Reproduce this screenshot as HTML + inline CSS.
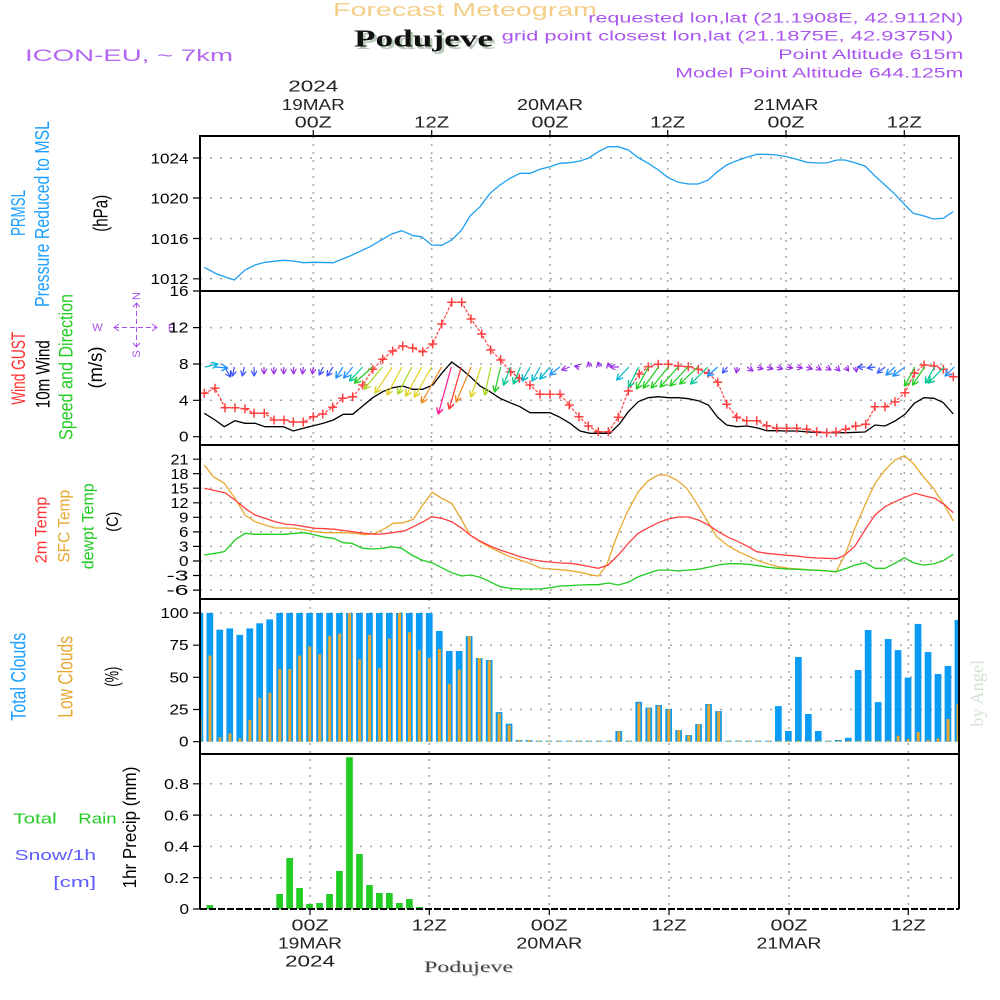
<!DOCTYPE html>
<html>
<head>
<meta charset="utf-8">
<style>
html,body{margin:0;padding:0;background:#fff;}
svg{display:block;}
text{font-family:"Liberation Sans",sans-serif;}
.tk{font-size:15px;fill:#000;text-anchor:end;}
.ax{font-size:16px;fill:#222;text-anchor:middle;}
.grid{fill:none;stroke:#a6a6a6;stroke-width:1.5;stroke-dasharray:2 8;}
</style>
</head>
<body>
<svg width="1000" height="1000" viewBox="0 0 1000 1000" xmlns="http://www.w3.org/2000/svg">
<defs>
<clipPath id="plot"><rect x="200" y="136" width="759" height="773"/></clipPath>
<marker id="m1" viewBox="0 0 10 10" refX="9" refY="5" markerWidth="6" markerHeight="6" markerUnits="userSpaceOnUse" orient="auto"><path d="M0,0 L9,5 L0,10" fill="none" stroke="#9a30e8" stroke-width="2"/></marker>
<marker id="m2" viewBox="0 0 10 10" refX="9" refY="5" markerWidth="6" markerHeight="6" markerUnits="userSpaceOnUse" orient="auto"><path d="M0,0 L9,5 L0,10" fill="none" stroke="#3a50ff" stroke-width="2"/></marker>
<marker id="m3" viewBox="0 0 10 10" refX="9" refY="5" markerWidth="7" markerHeight="7" markerUnits="userSpaceOnUse" orient="auto"><path d="M0,0 L9,5 L0,10" fill="none" stroke="#1e90ff" stroke-width="2"/></marker>
<marker id="m4" viewBox="0 0 10 10" refX="9" refY="5" markerWidth="7" markerHeight="7" markerUnits="userSpaceOnUse" orient="auto"><path d="M0,0 L9,5 L0,10" fill="none" stroke="#00b8d0" stroke-width="2"/></marker>
<marker id="m5" viewBox="0 0 10 10" refX="9" refY="5" markerWidth="7" markerHeight="7" markerUnits="userSpaceOnUse" orient="auto"><path d="M0,0 L9,5 L0,10" fill="none" stroke="#00c890" stroke-width="2"/></marker>
<marker id="m6" viewBox="0 0 10 10" refX="9" refY="5" markerWidth="7" markerHeight="7" markerUnits="userSpaceOnUse" orient="auto"><path d="M0,0 L9,5 L0,10" fill="none" stroke="#20cc20" stroke-width="2"/></marker>
<marker id="m7" viewBox="0 0 10 10" refX="9" refY="5" markerWidth="7" markerHeight="7" markerUnits="userSpaceOnUse" orient="auto"><path d="M0,0 L9,5 L0,10" fill="none" stroke="#a8d820" stroke-width="2"/></marker>
<marker id="m8" viewBox="0 0 10 10" refX="9" refY="5" markerWidth="7" markerHeight="7" markerUnits="userSpaceOnUse" orient="auto"><path d="M0,0 L9,5 L0,10" fill="none" stroke="#e0d020" stroke-width="2"/></marker>
<marker id="m9" viewBox="0 0 10 10" refX="9" refY="5" markerWidth="7" markerHeight="7" markerUnits="userSpaceOnUse" orient="auto"><path d="M0,0 L9,5 L0,10" fill="none" stroke="#f08a20" stroke-width="2"/></marker>
<marker id="m10" viewBox="0 0 10 10" refX="9" refY="5" markerWidth="7" markerHeight="7" markerUnits="userSpaceOnUse" orient="auto"><path d="M0,0 L9,5 L0,10" fill="none" stroke="#ff3030" stroke-width="2"/></marker>
<marker id="m11" viewBox="0 0 10 10" refX="9" refY="5" markerWidth="7" markerHeight="7" markerUnits="userSpaceOnUse" orient="auto"><path d="M0,0 L9,5 L0,10" fill="none" stroke="#ff1493" stroke-width="2"/></marker>
</defs>

<!-- ===== Header ===== -->
<text x="333" y="16" font-size="18" fill="#f3cf88" textLength="264" lengthAdjust="spacingAndGlyphs">Forecast Meteogram</text>
<text x="356.5" y="49" font-size="24" font-weight="bold" fill="#b8c8b8" style="font-family:'Liberation Serif',serif" textLength="139" lengthAdjust="spacingAndGlyphs">Podujeve</text>
<text x="354" y="46.7" font-size="24" font-weight="bold" fill="#111" style="font-family:'Liberation Serif',serif" textLength="139" lengthAdjust="spacingAndGlyphs">Podujeve</text>
<text x="25" y="61" font-size="17" fill="#b366f0" textLength="208" lengthAdjust="spacingAndGlyphs">ICON-EU, ~ 7km</text>
<text x="963.3" y="22.7" font-size="13.5" fill="#aa55ee" text-anchor="end" textLength="375" lengthAdjust="spacingAndGlyphs">requested lon,lat (21.1908E, 42.9112N)</text>
<text x="953.3" y="40.5" font-size="13.5" fill="#aa55ee" text-anchor="end" textLength="451.6" lengthAdjust="spacingAndGlyphs">grid point closest lon,lat (21.1875E, 42.9375N)</text>
<text x="963.3" y="59" font-size="13.5" fill="#aa55ee" text-anchor="end" textLength="185" lengthAdjust="spacingAndGlyphs">Point Altitude 615m</text>
<text x="963.3" y="77.3" font-size="13.5" fill="#aa55ee" text-anchor="end" textLength="288" lengthAdjust="spacingAndGlyphs">Model Point Altitude 644.125m</text>

<!-- top axis labels -->
<text class="ax" x="313.3" y="91.7" textLength="50" lengthAdjust="spacingAndGlyphs">2024</text>
<text class="ax" x="313.3" y="110" textLength="63" lengthAdjust="spacingAndGlyphs">19MAR</text>
<text class="ax" x="313.3" y="127.7" textLength="37" lengthAdjust="spacingAndGlyphs">00Z</text>
<text class="ax" x="431.7" y="127.7" textLength="35" lengthAdjust="spacingAndGlyphs">12Z</text>
<text class="ax" x="550" y="110" textLength="66" lengthAdjust="spacingAndGlyphs">20MAR</text>
<text class="ax" x="550" y="127.7" textLength="37" lengthAdjust="spacingAndGlyphs">00Z</text>
<text class="ax" x="667.7" y="127.7" textLength="35" lengthAdjust="spacingAndGlyphs">12Z</text>
<text class="ax" x="786" y="110" textLength="65" lengthAdjust="spacingAndGlyphs">21MAR</text>
<text class="ax" x="786" y="127.7" textLength="37" lengthAdjust="spacingAndGlyphs">00Z</text>
<text class="ax" x="904.3" y="127.7" textLength="35" lengthAdjust="spacingAndGlyphs">12Z</text>

<!-- bottom axis labels -->
<text class="ax" x="310" y="930.7" textLength="37" lengthAdjust="spacingAndGlyphs">00Z</text>
<text class="ax" x="310" y="948.3" textLength="64" lengthAdjust="spacingAndGlyphs">19MAR</text>
<text class="ax" x="310" y="966.7" textLength="50" lengthAdjust="spacingAndGlyphs">2024</text>
<text class="ax" x="429.3" y="930.7" textLength="35" lengthAdjust="spacingAndGlyphs">12Z</text>
<text class="ax" x="549.3" y="930.7" textLength="37" lengthAdjust="spacingAndGlyphs">00Z</text>
<text class="ax" x="549.3" y="948.3" textLength="66" lengthAdjust="spacingAndGlyphs">20MAR</text>
<text class="ax" x="669" y="930.7" textLength="35" lengthAdjust="spacingAndGlyphs">12Z</text>
<text class="ax" x="789" y="930.7" textLength="37" lengthAdjust="spacingAndGlyphs">00Z</text>
<text class="ax" x="789" y="948.3" textLength="65" lengthAdjust="spacingAndGlyphs">21MAR</text>
<text class="ax" x="908.3" y="930.7" textLength="35" lengthAdjust="spacingAndGlyphs">12Z</text>
<text x="425" y="973" font-size="16" fill="#d4d4d4" style="font-family:'Liberation Serif',serif" textLength="89" lengthAdjust="spacingAndGlyphs">Podujeve</text>
<text x="424" y="972" font-size="16" fill="#444" style="font-family:'Liberation Serif',serif" textLength="89" lengthAdjust="spacingAndGlyphs">Podujeve</text>

<!-- by Angel -->
<text transform="translate(983,693.3) rotate(-90)" text-anchor="middle" font-size="18" fill="#d5e3d5" style="font-family:'Liberation Serif',serif" textLength="67" lengthAdjust="spacingAndGlyphs">by Angel</text>

<!-- ===== Left labels ===== -->
<text transform="translate(25,213) rotate(-90)" text-anchor="middle" font-size="20" fill="#1e9fff" textLength="46" lengthAdjust="spacingAndGlyphs">PRMSL</text>
<text transform="translate(49,214) rotate(-90)" text-anchor="middle" font-size="20" fill="#1e9fff" textLength="186" lengthAdjust="spacingAndGlyphs">Pressure Reduced to MSL</text>
<text transform="translate(107.5,213.3) rotate(-90)" text-anchor="middle" font-size="20" fill="#000" textLength="37" lengthAdjust="spacingAndGlyphs">(hPa)</text>

<text transform="translate(25,368.3) rotate(-90)" text-anchor="middle" font-size="19" fill="#ff3030" textLength="73" lengthAdjust="spacingAndGlyphs">Wind GUST</text>
<text transform="translate(49.3,374.2) rotate(-90)" text-anchor="middle" font-size="19" fill="#000" textLength="68" lengthAdjust="spacingAndGlyphs">10m Wind</text>
<text transform="translate(72.7,367) rotate(-90)" text-anchor="middle" font-size="19" fill="#22cc22" textLength="146" lengthAdjust="spacingAndGlyphs">Speed and Direction</text>
<text transform="translate(102,367.5) rotate(-90)" text-anchor="middle" font-size="19" fill="#000" textLength="42" lengthAdjust="spacingAndGlyphs">(m/s)</text>

<!-- compass -->
<g fill="#a850e8" font-size="11">
<text x="97.5" y="331" text-anchor="middle">W</text>
<text x="171.5" y="331.5" text-anchor="middle">E</text>
<text transform="translate(140,296) rotate(-90)" text-anchor="middle">N</text>
<text transform="translate(140,354) rotate(-90)" text-anchor="middle">S</text>
</g>
<g stroke="#a850e8" stroke-width="1" fill="none">
<path d="M114,327.5 H157" stroke-dasharray="5 3"/>
<path d="M119,324 L114,327.5 L119,331 M152,324 L157,327.5 L152,331"/>
<path d="M136.5,303 V347" stroke-dasharray="5 3"/>
<path d="M133,307 L136.5,303 L140,307 M133,343 L136.5,347 L140,343"/>
</g>

<text transform="translate(46.5,530) rotate(-90)" text-anchor="middle" font-size="16.5" fill="#ff3333" textLength="66.6" lengthAdjust="spacingAndGlyphs">2m Temp</text>
<text transform="translate(69.5,526.3) rotate(-90)" text-anchor="middle" font-size="16.5" fill="#e8a830" textLength="72.7" lengthAdjust="spacingAndGlyphs">SFC Temp</text>
<text transform="translate(93.5,526.3) rotate(-90)" text-anchor="middle" font-size="16.5" fill="#22cc22" textLength="86" lengthAdjust="spacingAndGlyphs">dewpt Temp</text>
<text transform="translate(118,521.7) rotate(-90)" text-anchor="middle" font-size="17" fill="#000" textLength="20" lengthAdjust="spacingAndGlyphs">(C)</text>

<text transform="translate(25.5,676.8) rotate(-90)" text-anchor="middle" font-size="21" fill="#1ea0ff" textLength="88" lengthAdjust="spacingAndGlyphs">Total Clouds</text>
<text transform="translate(72.5,676.8) rotate(-90)" text-anchor="middle" font-size="21" fill="#e8a830" textLength="81.7" lengthAdjust="spacingAndGlyphs">Low Clouds</text>
<text transform="translate(118.5,676.7) rotate(-90)" text-anchor="middle" font-size="19" fill="#000" textLength="20" lengthAdjust="spacingAndGlyphs">(%)</text>

<text x="13.3" y="823.3" font-size="15" fill="#22cc22" textLength="43.4" lengthAdjust="spacingAndGlyphs">Total</text>
<text x="78.3" y="823.3" font-size="15" fill="#22cc22" textLength="38.4" lengthAdjust="spacingAndGlyphs">Rain</text>
<text x="14.7" y="860" font-size="15" fill="#5a5aff" textLength="81.3" lengthAdjust="spacingAndGlyphs">Snow/1h</text>
<text x="53.3" y="887" font-size="15" fill="#5a5aff" textLength="42.7" lengthAdjust="spacingAndGlyphs">[cm]</text>
<text transform="translate(136,827.5) rotate(-90)" text-anchor="middle" font-size="18" fill="#000" textLength="121.7" lengthAdjust="spacingAndGlyphs">1hr Precip (mm)</text>

<!-- ===== Tick labels ===== -->
<text class="tk" x="188.5" y="163.3" textLength="38" lengthAdjust="spacingAndGlyphs">1024</text>
<text class="tk" x="188.5" y="203.3" textLength="38" lengthAdjust="spacingAndGlyphs">1020</text>
<text class="tk" x="188.5" y="243.8" textLength="38" lengthAdjust="spacingAndGlyphs">1016</text>
<text class="tk" x="188.5" y="284" textLength="38" lengthAdjust="spacingAndGlyphs">1012</text>

<text class="tk" x="188.5" y="296" textLength="19" lengthAdjust="spacingAndGlyphs">16</text>
<text class="tk" x="188.5" y="332.5" textLength="20" lengthAdjust="spacingAndGlyphs">12</text>
<text class="tk" x="188.5" y="369" textLength="9.5" lengthAdjust="spacingAndGlyphs">8</text>
<text class="tk" x="188.5" y="405.3" textLength="9.5" lengthAdjust="spacingAndGlyphs">4</text>
<text class="tk" x="188.5" y="441.7" textLength="9.5" lengthAdjust="spacingAndGlyphs">0</text>

<text class="tk" x="188.5" y="464.5" textLength="18" lengthAdjust="spacingAndGlyphs">21</text>
<text class="tk" x="188.5" y="479" textLength="18" lengthAdjust="spacingAndGlyphs">18</text>
<text class="tk" x="188.5" y="493.5" textLength="18" lengthAdjust="spacingAndGlyphs">15</text>
<text class="tk" x="188.5" y="508" textLength="18" lengthAdjust="spacingAndGlyphs">12</text>
<text class="tk" x="188.5" y="522.5" textLength="9.5" lengthAdjust="spacingAndGlyphs">9</text>
<text class="tk" x="188.5" y="537" textLength="9.5" lengthAdjust="spacingAndGlyphs">6</text>
<text class="tk" x="188.5" y="551.5" textLength="9.5" lengthAdjust="spacingAndGlyphs">3</text>
<text class="tk" x="188.5" y="566" textLength="9.5" lengthAdjust="spacingAndGlyphs">0</text>
<text class="tk" x="188.5" y="580.5" textLength="22" lengthAdjust="spacingAndGlyphs">-3</text>
<text class="tk" x="188.5" y="595" textLength="22" lengthAdjust="spacingAndGlyphs">-6</text>

<text class="tk" x="188.5" y="618" textLength="28" lengthAdjust="spacingAndGlyphs">100</text>
<text class="tk" x="188.5" y="650.2" textLength="19" lengthAdjust="spacingAndGlyphs">75</text>
<text class="tk" x="188.5" y="682.3" textLength="19" lengthAdjust="spacingAndGlyphs">50</text>
<text class="tk" x="188.5" y="714.5" textLength="19" lengthAdjust="spacingAndGlyphs">25</text>
<text class="tk" x="188.5" y="746.7" textLength="9.5" lengthAdjust="spacingAndGlyphs">0</text>

<text class="tk" x="189" y="789" textLength="25" lengthAdjust="spacingAndGlyphs">0.8</text>
<text class="tk" x="189" y="820.3" textLength="25" lengthAdjust="spacingAndGlyphs">0.6</text>
<text class="tk" x="189" y="851.6" textLength="25" lengthAdjust="spacingAndGlyphs">0.4</text>
<text class="tk" x="189" y="882.9" textLength="25" lengthAdjust="spacingAndGlyphs">0.2</text>
<text class="tk" x="189" y="914" textLength="9.5" lengthAdjust="spacingAndGlyphs">0</text>

<!-- ===== Grid ===== -->
<path class="grid" d="M200,158H959 M200,198H959 M200,238.5H959 M200,278.8H959
M200,327.6H959 M200,364H959 M200,400.3H959 M200,436.7H959
M200,459.2H959 M200,473.7H959 M200,488.2H959 M200,502.8H959 M200,517.3H959 M200,531.9H959 M200,546.4H959 M200,561H959 M200,575.5H959 M200,590.1H959
M200,613H959 M200,645.2H959 M200,677.3H959 M200,709.5H959
M200,783.8H959 M200,815.1H959 M200,846.4H959 M200,877.7H959"/>
<path class="grid" style="stroke-dasharray:2 6" d="M313.3,136V599 M431.7,136V599 M550,136V599 M667.7,136V599 M786,136V599 M904.3,136V599
M310,599V909 M429.3,599V909 M549.3,599V909 M669,599V909 M789,599V909 M908.3,599V909"/>

<g clip-path="url(#plot)">
<!-- ===== Pressure ===== -->
<polyline fill="none" stroke="#1e9ff0" stroke-width="1.3" points="204.3,267.3 216.7,274 234.3,280 245,270 255,265 265,262.3 283.3,260.3 293.3,261 303.3,262.7 313.3,262.3 333.3,262.7 350,256 370,246.7 391.7,234 401.7,230.7 413.3,235.7 421.7,236.7 431.7,245 441.7,245.3 451.7,240 461.7,230 470,216 480,206.7 490,193.3 500,185 510,178.3 520,173.3 530,173.3 540,169.3 550,166.7 560,163.3 570,162.7 580,161 588.3,158.3 598.3,151.7 608.3,146.7 618.3,146.7 628.3,150 638.3,157.7 648.3,163.3 658.3,170 668.3,177.7 678.3,182.3 688.3,184 698.3,184 708.3,180 716.7,172.3 726.7,165 736.7,160.7 746.7,157.3 756.7,154.3 766.7,154.3 776.7,155 786.7,156.7 796.7,159.3 806.7,162.3 816.7,163 826.7,163 836.7,160 845,160 855,162.7 865,166 875,176 885,185 895,194.3 905,205 913.3,213.3 923.3,215.7 933.3,219 943.3,218.3 953.3,211.7"/>

<!-- ===== Wind ===== -->
<polyline fill="none" stroke="#000" stroke-width="1.3" points="204.3,413.3 215,420 224.3,426.7 235,420.7 245,423.3 255,423.3 265,426.7 283.3,426.7 293.3,431 303.3,428.3 313.3,425.7 323.3,423.3 333.3,420 343.3,414.3 352.7,414.3 362.7,406 372.7,397.7 382.7,391.7 392.7,387.7 402.7,386 412.7,389.3 422.7,389.3 432.7,385 441.7,373.3 451.7,362 461.7,369.3 471,377.3 480,386 490,391.7 500,398.3 510,402.7 520,406.7 530,412.7 540,412.7 550,412.7 560,417.3 570,423.3 580,431 590,433.3 600,433.3 610,433.3 620,423.3 628.3,411.7 638.3,401.7 648.3,397.7 658.3,396.7 668.3,397.7 678.3,397.7 688.3,398.7 698.3,400.7 708.3,405 717.7,417.3 726.7,425 736.7,426.7 746.7,426 756.7,427.7 766.7,430.7 776.7,430.7 786.7,431 796.7,431 813,432.3 833.3,432.7 846.7,432.7 865,432 875,425 885,426 895,421 905,414.3 914.3,403.3 924,397.7 934,398.3 943.3,402.7 953.3,414"/>

<polyline fill="none" stroke="#ff4040" stroke-width="1.2" stroke-dasharray="3 1.5" points="204.3,393.3 215,388.3 225,407.7 235,407.7 245,408.7 254,413.3 264.3,413.3 274,420 284,420 293.3,422 303.3,422 313.3,416.7 322.7,414 332.7,407.3 342.7,398.3 352.7,396.7 362.7,385 372.7,369.3 382.7,359.3 392.7,351 402.7,346 412.7,348 422.7,351.7 432.7,344 441.7,324 451.7,302.3 461.7,302.3 471,319 481.7,334 490.7,350 500.7,360 510.7,371.7 519.3,378.3 530,385 540,394.3 550,394.3 560,394.3 569.3,405 579,416.7 588.3,426 598.3,431.7 608.3,431.7 618.3,417.3 628.3,391 639.3,374 648.3,366.7 658.3,364.3 668.3,364.3 678.3,366 688.3,366.7 698.3,369.3 708.3,373.3 717.7,382.3 726.7,404.3 736.7,417.3 746.7,420.7 756.7,420.7 766.7,425.7 776.7,428.3 786.7,428.3 796.7,428.3 806.7,429.3 816.7,431.7 826.7,432.7 836,432 845.7,429.3 855.7,426 865.7,424.3 875,406.7 885,406.7 895,401.7 905,392.7 914.3,373.3 924,365 934,366 943.3,369.3 953.3,376.7"/>
<path fill="none" stroke="#ff4040" stroke-width="1.5" d="M204.3,393.3m-4.5,0h9m-4.5,-4.5v9 M215,388.3m-4.5,0h9m-4.5,-4.5v9 M225,407.7m-4.5,0h9m-4.5,-4.5v9 M235,407.7m-4.5,0h9m-4.5,-4.5v9 M245,408.7m-4.5,0h9m-4.5,-4.5v9 M254,413.3m-4.5,0h9m-4.5,-4.5v9 M264.3,413.3m-4.5,0h9m-4.5,-4.5v9 M274,420m-4.5,0h9m-4.5,-4.5v9 M284,420m-4.5,0h9m-4.5,-4.5v9 M293.3,422m-4.5,0h9m-4.5,-4.5v9 M303.3,422m-4.5,0h9m-4.5,-4.5v9 M313.3,416.7m-4.5,0h9m-4.5,-4.5v9 M322.7,414m-4.5,0h9m-4.5,-4.5v9 M332.7,407.3m-4.5,0h9m-4.5,-4.5v9 M342.7,398.3m-4.5,0h9m-4.5,-4.5v9 M352.7,396.7m-4.5,0h9m-4.5,-4.5v9 M362.7,385m-4.5,0h9m-4.5,-4.5v9 M372.7,369.3m-4.5,0h9m-4.5,-4.5v9 M382.7,359.3m-4.5,0h9m-4.5,-4.5v9 M392.7,351m-4.5,0h9m-4.5,-4.5v9 M402.7,346m-4.5,0h9m-4.5,-4.5v9 M412.7,348m-4.5,0h9m-4.5,-4.5v9 M422.7,351.7m-4.5,0h9m-4.5,-4.5v9 M432.7,344m-4.5,0h9m-4.5,-4.5v9 M441.7,324m-4.5,0h9m-4.5,-4.5v9 M451.7,302.3m-4.5,0h9m-4.5,-4.5v9 M461.7,302.3m-4.5,0h9m-4.5,-4.5v9 M471,319m-4.5,0h9m-4.5,-4.5v9 M481.7,334m-4.5,0h9m-4.5,-4.5v9 M490.7,350m-4.5,0h9m-4.5,-4.5v9 M500.7,360m-4.5,0h9m-4.5,-4.5v9 M510.7,371.7m-4.5,0h9m-4.5,-4.5v9 M519.3,378.3m-4.5,0h9m-4.5,-4.5v9 M530,385m-4.5,0h9m-4.5,-4.5v9 M540,394.3m-4.5,0h9m-4.5,-4.5v9 M550,394.3m-4.5,0h9m-4.5,-4.5v9 M560,394.3m-4.5,0h9m-4.5,-4.5v9 M569.3,405m-4.5,0h9m-4.5,-4.5v9 M579,416.7m-4.5,0h9m-4.5,-4.5v9 M588.3,426m-4.5,0h9m-4.5,-4.5v9 M598.3,431.7m-4.5,0h9m-4.5,-4.5v9 M608.3,431.7m-4.5,0h9m-4.5,-4.5v9 M618.3,417.3m-4.5,0h9m-4.5,-4.5v9 M628.3,391m-4.5,0h9m-4.5,-4.5v9 M639.3,374m-4.5,0h9m-4.5,-4.5v9 M648.3,366.7m-4.5,0h9m-4.5,-4.5v9 M658.3,364.3m-4.5,0h9m-4.5,-4.5v9 M668.3,364.3m-4.5,0h9m-4.5,-4.5v9 M678.3,366m-4.5,0h9m-4.5,-4.5v9 M688.3,366.7m-4.5,0h9m-4.5,-4.5v9 M698.3,369.3m-4.5,0h9m-4.5,-4.5v9 M708.3,373.3m-4.5,0h9m-4.5,-4.5v9 M717.7,382.3m-4.5,0h9m-4.5,-4.5v9 M726.7,404.3m-4.5,0h9m-4.5,-4.5v9 M736.7,417.3m-4.5,0h9m-4.5,-4.5v9 M746.7,420.7m-4.5,0h9m-4.5,-4.5v9 M756.7,420.7m-4.5,0h9m-4.5,-4.5v9 M766.7,425.7m-4.5,0h9m-4.5,-4.5v9 M776.7,428.3m-4.5,0h9m-4.5,-4.5v9 M786.7,428.3m-4.5,0h9m-4.5,-4.5v9 M796.7,428.3m-4.5,0h9m-4.5,-4.5v9 M806.7,429.3m-4.5,0h9m-4.5,-4.5v9 M816.7,431.7m-4.5,0h9m-4.5,-4.5v9 M826.7,432.7m-4.5,0h9m-4.5,-4.5v9 M836,432m-4.5,0h9m-4.5,-4.5v9 M845.7,429.3m-4.5,0h9m-4.5,-4.5v9 M855.7,426m-4.5,0h9m-4.5,-4.5v9 M865.7,424.3m-4.5,0h9m-4.5,-4.5v9 M875,406.7m-4.5,0h9m-4.5,-4.5v9 M885,406.7m-4.5,0h9m-4.5,-4.5v9 M895,401.7m-4.5,0h9m-4.5,-4.5v9 M905,392.7m-4.5,0h9m-4.5,-4.5v9 M914.3,373.3m-4.5,0h9m-4.5,-4.5v9 M924,365m-4.5,0h9m-4.5,-4.5v9 M934,366m-4.5,0h9m-4.5,-4.5v9 M943.3,369.3m-4.5,0h9m-4.5,-4.5v9 M953.3,376.7m-4.5,0h9m-4.5,-4.5v9"/>

<!-- wind arrows -->
<g fill="none" stroke-width="1.2">
<g stroke="#9a30e8" marker-end="url(#m1)">
<line x1="264" y1="367" x2="264" y2="374"/><line x1="273.9" y1="367" x2="273.9" y2="374"/><line x1="283.7" y1="367" x2="283.7" y2="374"/><line x1="293.6" y1="367" x2="293.6" y2="374"/><line x1="303.4" y1="367" x2="302.4" y2="374"/><line x1="313.3" y1="367" x2="312.3" y2="374"/>
<line x1="569.7" y1="367" x2="561.7" y2="370"/><line x1="579.5" y1="367" x2="574.5" y2="366"/><line x1="589.4" y1="367" x2="588.4" y2="362"/><line x1="599.2" y1="367" x2="598.2" y2="362"/><line x1="609.1" y1="367" x2="608.1" y2="363"/><line x1="619" y1="367" x2="610" y2="367"/>
<line x1="737.3" y1="367" x2="736.3" y2="373"/><line x1="747.1" y1="367" x2="753.1" y2="371"/><line x1="757" y1="367" x2="763" y2="369"/><line x1="766.9" y1="367" x2="772.9" y2="369"/><line x1="776.7" y1="367" x2="782.7" y2="369"/><line x1="786.6" y1="367" x2="792.6" y2="368"/><line x1="796.4" y1="367" x2="802.4" y2="368"/><line x1="806.3" y1="367" x2="812.3" y2="369"/><line x1="816.2" y1="367" x2="821.2" y2="370"/><line x1="826" y1="367" x2="831" y2="370"/><line x1="835.9" y1="367" x2="839.9" y2="371"/><line x1="845.7" y1="367" x2="848.7" y2="371"/><line x1="855.6" y1="367" x2="856.6" y2="372"/>
</g>
<g stroke="#3a50ff" marker-end="url(#m2)">
<line x1="224.6" y1="367" x2="230.6" y2="377"/><line x1="234.4" y1="367" x2="232.4" y2="376"/><line x1="244.3" y1="367" x2="242.3" y2="376"/><line x1="254.1" y1="367" x2="254.1" y2="376"/><line x1="323.2" y1="367" x2="319.2" y2="375"/><line x1="333" y1="367" x2="327" y2="376"/><line x1="727.4" y1="367" x2="722.4" y2="373"/><line x1="865.5" y1="367" x2="857.5" y2="367"/><line x1="875.3" y1="367" x2="867.3" y2="368"/><line x1="885.2" y1="367" x2="877.2" y2="373"/>
</g>
<g stroke="#1e90ff" marker-end="url(#m3)">
<line x1="214.7" y1="367" x2="227.7" y2="368"/><line x1="342.9" y1="367" x2="335.9" y2="378"/><line x1="352.7" y1="367" x2="343.7" y2="378"/><line x1="559.8" y1="367" x2="549.8" y2="375"/><line x1="717.6" y1="367" x2="707.6" y2="376"/><line x1="895" y1="367" x2="886" y2="375"/><line x1="904.9" y1="367" x2="892.9" y2="376"/><line x1="954.2" y1="367" x2="945.2" y2="376"/>
</g>
<g stroke="#00b8d0" marker-end="url(#m4)">
<line x1="204.8" y1="367" x2="217.8" y2="364"/><line x1="530.2" y1="367" x2="522.2" y2="381"/><line x1="540.1" y1="367" x2="532.1" y2="381"/><line x1="549.9" y1="367" x2="539.9" y2="379"/><line x1="628.8" y1="367" x2="616.8" y2="380"/>
</g>
<g stroke="#00c890" marker-end="url(#m5)">
<line x1="362.6" y1="367" x2="349.6" y2="381"/><line x1="510.5" y1="367" x2="503.5" y2="385"/><line x1="520.4" y1="367" x2="513.4" y2="384"/><line x1="638.7" y1="367" x2="628.7" y2="387"/><line x1="707.7" y1="367" x2="690.7" y2="384"/><line x1="934.5" y1="367" x2="925.5" y2="383"/><line x1="944.3" y1="367" x2="928.3" y2="383"/>
</g>
<g stroke="#20cc20" marker-end="url(#m6)">
<line x1="372.5" y1="367" x2="354.5" y2="383"/><line x1="500.6" y1="367" x2="494.6" y2="392"/><line x1="648.5" y1="367" x2="636.5" y2="389"/><line x1="658.4" y1="367" x2="643.4" y2="388"/><line x1="668.3" y1="367" x2="651.3" y2="388"/><line x1="678.1" y1="367" x2="660.1" y2="387"/><line x1="688" y1="367" x2="670" y2="386"/><line x1="697.8" y1="367" x2="679.8" y2="384"/><line x1="914.8" y1="367" x2="904.8" y2="386"/><line x1="924.6" y1="367" x2="912.6" y2="385"/>
</g>
<g stroke="#a8d820" marker-end="url(#m7)">
<line x1="382.3" y1="367" x2="364.3" y2="389"/><line x1="411.9" y1="367" x2="397.9" y2="394"/><line x1="490.8" y1="367" x2="484.8" y2="395"/>
</g>
<g stroke="#e0d020" marker-end="url(#m8)">
<line x1="392.2" y1="367" x2="375.2" y2="393"/><line x1="402" y1="367" x2="387" y2="395"/><line x1="421.8" y1="367" x2="405.8" y2="396"/><line x1="431.6" y1="367" x2="414.6" y2="397"/><line x1="480.9" y1="367" x2="470.9" y2="397"/>
</g>
<g stroke="#f08a20" marker-end="url(#m9)">
<line x1="441.5" y1="367" x2="421.5" y2="403"/><line x1="471.1" y1="367" x2="456.1" y2="402"/>
</g>
<g stroke="#ff3030" marker-end="url(#m10)"><line x1="461.2" y1="367" x2="449.2" y2="409"/></g>
<g stroke="#ff1493" marker-end="url(#m11)"><line x1="451.3" y1="367" x2="438.3" y2="414"/></g>
</g>

<!-- ===== Temperatures ===== -->
<polyline fill="none" stroke="#e8a830" stroke-width="1.3" points="204.3,465 213.3,476.7 224.3,483.3 235,498.3 245,515 255,521.7 265,525 275,528 285,528 295,528.3 305,530 315,531.7 325,532.7 335,532.7 345,532.7 355,533.3 365,534.7 375,533.3 385,528.3 393.3,523.3 403.3,522.7 413.3,519.3 422.7,505 432.3,492.3 441.7,498.3 451.7,503.3 461.7,520 470,535 480,541.7 490,547.3 500,552.3 510,556.7 520,560 530,563.3 540,568 550,569 560,569.7 570,570.7 580,572.3 590,574.7 598.3,576 606.7,565 616.7,536.7 626.7,513.3 638.3,491.7 648.3,480.7 658.3,475 666.7,475 676.7,480 686.7,488.3 696.7,503.3 706.7,520 716.7,536.7 728.3,546 738.3,551.7 748.3,556 758.3,560.7 768.3,564 778.3,566.7 788.3,568.3 798.3,569 808.3,569.7 818.3,570.3 828.3,571 836,572 845,555 855,528.3 865,505 875,483.3 885,470 895,460 904.3,455.7 913.3,463.3 923.3,476.7 933.3,488.3 943.3,503.3 953.3,521"/>
<polyline fill="none" stroke="#ff4040" stroke-width="1.3" points="204.3,488.3 216.7,491 225,492.7 235,500 245,508.3 255,515 265,518.3 275,521.7 285,524 295,525 305,526.7 315,528.3 325,528.7 335,529.3 345,530.7 355,532 365,533.3 375,534.3 385,533.7 395,532.3 405,530.7 413.3,526.7 423.3,521.7 431.7,516.7 441.7,518.3 451.7,521.7 461.7,528.3 470,535 480,541 490,546 500,550 510,553.3 520,556.7 530,559.3 540,561 550,562 560,563 570,563.3 580,564.7 590,566.7 598.3,568.3 608.3,565 618.3,555 628.3,543.3 638.3,533.3 648.3,527.7 658.3,522.7 668.3,519 678.3,517 688.3,517 698.3,520 708.3,525 718.3,531.7 728.3,537.3 738.3,541.7 748.3,546.7 756.7,551.7 766.7,553.3 776.7,554.3 786.7,555.3 796.7,556 806.7,557.3 816.7,558 826.7,558.3 836.7,558.7 845,555 855,546 865,530 875,515 885,506.7 895,501.7 905,497.3 915,493.3 925,496 935,498.3 945,505 953.3,512.7"/>
<polyline fill="none" stroke="#20cc20" stroke-width="1.3" points="204.3,555 215,553.3 224.3,551.7 235,540 245,533.3 255,534.3 265,534.3 275,534.3 285,534.3 295,533.3 305,532.7 315,535 325,537.3 333.3,538.3 343.3,542.7 351.7,543.3 362.7,548.3 372.7,549 382.7,548.3 391.7,546.7 401.7,548.3 411.7,555 421.7,560 431.7,562.7 441.7,567.7 451.7,572.7 461.7,576 470.7,575 480,577.3 490,581.7 500,586.7 510,588.3 520,589 530,589 540,589 550,587.7 560,586 570,585.7 580,585 590,584.7 598.3,584.7 608.3,583 618.3,585 628.3,582.3 638.3,576.7 648.3,573.3 658.3,570 668.3,570 678.3,571 688.3,570 698.3,569.3 708.3,567.3 718.3,565 728.3,563.7 738.3,563.7 748.3,564.3 758.3,565.7 768.3,567.3 778.3,568.3 788.3,569 798.3,569.3 808.3,570 818.3,570.3 828.3,571 836,571.7 846.7,568.3 855,565 865,562.7 875,568.3 885,568.3 895,563.3 904.3,557.7 913.3,562.7 923.3,565 933.3,564 943.3,560.7 953.3,554.3"/>

<!-- ===== Clouds: total (blue) ===== -->
<g fill="#0a9bf5">
<rect x="196.5" y="613" width="6.7" height="128.7"/>
<rect x="206.5" y="613" width="6.7" height="128.7"/>
<rect x="216.4" y="629.7" width="6.7" height="112"/>
<rect x="226.4" y="628.4" width="6.7" height="113.3"/>
<rect x="236.4" y="634.9" width="6.7" height="106.8"/>
<rect x="246.4" y="628.4" width="6.7" height="113.3"/>
<rect x="256.3" y="623.3" width="6.7" height="118.4"/>
<rect x="266.3" y="619.4" width="6.7" height="122.3"/>
<rect x="276.3" y="613" width="6.7" height="128.7"/>
<rect x="286.3" y="613" width="6.7" height="128.7"/>
<rect x="296.2" y="613" width="6.7" height="128.7"/>
<rect x="306.2" y="613" width="6.7" height="128.7"/>
<rect x="316.2" y="613" width="6.7" height="128.7"/>
<rect x="326.2" y="613" width="6.7" height="128.7"/>
<rect x="336.1" y="613" width="6.7" height="128.7"/>
<rect x="346.1" y="613" width="6.7" height="128.7"/>
<rect x="356.1" y="613" width="6.7" height="128.7"/>
<rect x="366.1" y="613" width="6.7" height="128.7"/>
<rect x="376" y="613" width="6.7" height="128.7"/>
<rect x="386" y="613" width="6.7" height="128.7"/>
<rect x="396" y="613" width="6.7" height="128.7"/>
<rect x="406" y="613" width="6.7" height="128.7"/>
<rect x="415.9" y="613" width="6.7" height="128.7"/>
<rect x="425.9" y="613" width="6.7" height="128.7"/>
<rect x="435.9" y="631" width="6.7" height="110.7"/>
<rect x="445.9" y="651" width="6.7" height="90.7"/>
<rect x="455.8" y="651" width="6.7" height="90.7"/>
<rect x="465.8" y="636.2" width="6.7" height="105.5"/>
<rect x="475.8" y="658" width="6.7" height="83.7"/>
<rect x="485.8" y="660" width="6.7" height="81.7"/>
<rect x="495.7" y="712.1" width="6.7" height="29.6"/>
<rect x="505.7" y="723.7" width="6.7" height="18"/>
<rect x="515.7" y="740" width="6.7" height="1.7"/>
<rect x="525.7" y="740" width="6.7" height="1.7"/>
<rect x="535.6" y="740.7" width="6.7" height="1"/>
<rect x="545.6" y="740.7" width="6.7" height="1"/>
<rect x="555.6" y="740.7" width="6.7" height="1"/>
<rect x="565.6" y="740.7" width="6.7" height="1"/>
<rect x="575.5" y="740.7" width="6.7" height="1"/>
<rect x="585.5" y="740.7" width="6.7" height="1"/>
<rect x="595.5" y="740.7" width="6.7" height="1"/>
<rect x="605.5" y="740.7" width="6.7" height="1"/>
<rect x="615.4" y="731" width="6.7" height="10.7"/>
<rect x="625.4" y="740.7" width="6.7" height="1"/>
<rect x="635.4" y="701.8" width="6.7" height="39.9"/>
<rect x="645.4" y="707.6" width="6.7" height="34.1"/>
<rect x="655.3" y="705" width="6.7" height="36.7"/>
<rect x="665.3" y="708.9" width="6.7" height="32.8"/>
<rect x="675.3" y="730.1" width="6.7" height="11.6"/>
<rect x="685.3" y="735" width="6.7" height="6.7"/>
<rect x="695.2" y="724.1" width="6.7" height="17.6"/>
<rect x="705.2" y="704" width="6.7" height="37.7"/>
<rect x="715.2" y="711.1" width="6.7" height="30.6"/>
<rect x="725.2" y="740.7" width="6.7" height="1"/>
<rect x="735.1" y="740.7" width="6.7" height="1"/>
<rect x="745.1" y="740.7" width="6.7" height="1"/>
<rect x="755.1" y="740.7" width="6.7" height="1"/>
<rect x="765.1" y="740.7" width="6.7" height="1"/>
<rect x="775" y="706.1" width="6.7" height="35.6"/>
<rect x="785" y="731" width="6.7" height="10.7"/>
<rect x="795" y="657" width="6.7" height="84.7"/>
<rect x="805" y="714" width="6.7" height="27.7"/>
<rect x="814.9" y="731" width="6.7" height="10.7"/>
<rect x="824.9" y="740.7" width="6.7" height="1"/>
<rect x="834.9" y="740" width="6.7" height="1.7"/>
<rect x="844.9" y="737.8" width="6.7" height="3.9"/>
<rect x="854.8" y="670" width="6.7" height="71.7"/>
<rect x="864.8" y="630" width="6.7" height="111.7"/>
<rect x="874.8" y="702.1" width="6.7" height="39.6"/>
<rect x="884.8" y="639" width="6.7" height="102.7"/>
<rect x="894.7" y="650.1" width="6.7" height="91.6"/>
<rect x="904.7" y="677.6" width="6.7" height="64.1"/>
<rect x="914.7" y="623.9" width="6.7" height="117.8"/>
<rect x="924.7" y="652" width="6.7" height="89.7"/>
<rect x="934.6" y="674" width="6.7" height="67.7"/>
<rect x="944.6" y="666" width="6.7" height="75.7"/>
<rect x="954.6" y="619.9" width="6.7" height="121.8"/>
</g>
<!-- low clouds (orange) -->
<g fill="#e6a630">
<rect x="198.5" y="718.5" width="3" height="23.2"/>
<rect x="208.5" y="655.5" width="3" height="86.2"/>
<rect x="218.4" y="737.3" width="3" height="4.4"/>
<rect x="228.4" y="733.3" width="3" height="8.4"/>
<rect x="238.4" y="738.4" width="3" height="3.3"/>
<rect x="248.4" y="719.8" width="3" height="21.9"/>
<rect x="258.3" y="697.9" width="3" height="43.8"/>
<rect x="268.3" y="692.8" width="3" height="48.9"/>
<rect x="278.3" y="669" width="3" height="72.7"/>
<rect x="288.3" y="669" width="3" height="72.7"/>
<rect x="298.2" y="655.5" width="3" height="86.2"/>
<rect x="308.2" y="646.5" width="3" height="95.2"/>
<rect x="318.2" y="654.2" width="3" height="87.5"/>
<rect x="328.2" y="636.2" width="3" height="105.5"/>
<rect x="338.1" y="633.6" width="3" height="108.1"/>
<rect x="348.1" y="613" width="3" height="128.7"/>
<rect x="358.1" y="659.3" width="3" height="82.4"/>
<rect x="368.1" y="634.9" width="3" height="106.8"/>
<rect x="378" y="668.3" width="3" height="73.4"/>
<rect x="388" y="638.7" width="3" height="103"/>
<rect x="398" y="613" width="3" height="128.7"/>
<rect x="408" y="632.3" width="3" height="109.4"/>
<rect x="417.9" y="650.3" width="3" height="91.4"/>
<rect x="427.9" y="658" width="3" height="83.7"/>
<rect x="437.9" y="649" width="3" height="92.7"/>
<rect x="447.9" y="683.8" width="3" height="57.9"/>
<rect x="457.8" y="669.6" width="3" height="72.1"/>
<rect x="467.8" y="636.2" width="3" height="105.5"/>
<rect x="477.8" y="658" width="3" height="83.7"/>
<rect x="487.8" y="660.6" width="3" height="81.1"/>
<rect x="497.7" y="713.4" width="3" height="28.3"/>
<rect x="507.7" y="725" width="3" height="16.7"/>
<rect x="517.7" y="740" width="3" height="1.7"/>
<rect x="527.7" y="740" width="3" height="1.7"/>
<rect x="537.6" y="740.7" width="3" height="1"/>
<rect x="547.6" y="740.7" width="3" height="1"/>
<rect x="557.6" y="740.7" width="3" height="1"/>
<rect x="567.6" y="740.7" width="3" height="1"/>
<rect x="577.5" y="740.7" width="3" height="1"/>
<rect x="587.5" y="740.7" width="3" height="1"/>
<rect x="597.5" y="740.7" width="3" height="1"/>
<rect x="607.5" y="740.7" width="3" height="1"/>
<rect x="617.4" y="731.4" width="3" height="10.3"/>
<rect x="627.4" y="740.7" width="3" height="1"/>
<rect x="637.4" y="703.1" width="3" height="38.6"/>
<rect x="647.4" y="708.2" width="3" height="33.5"/>
<rect x="657.3" y="705.7" width="3" height="36"/>
<rect x="667.3" y="709.5" width="3" height="32.2"/>
<rect x="677.3" y="730.1" width="3" height="11.6"/>
<rect x="687.3" y="735.3" width="3" height="6.4"/>
<rect x="697.2" y="724.3" width="3" height="17.4"/>
<rect x="707.2" y="704.4" width="3" height="37.3"/>
<rect x="717.2" y="711.5" width="3" height="30.2"/>
<rect x="727.2" y="740.7" width="3" height="1"/>
<rect x="737.1" y="740.7" width="3" height="1"/>
<rect x="747.1" y="740.7" width="3" height="1"/>
<rect x="757.1" y="740.7" width="3" height="1"/>
<rect x="767.1" y="740.7" width="3" height="1"/>
<rect x="777" y="740.7" width="3" height="1"/>
<rect x="787" y="740.7" width="3" height="1"/>
<rect x="797" y="740.7" width="3" height="1"/>
<rect x="807" y="740.7" width="3" height="1"/>
<rect x="816.9" y="740.7" width="3" height="1"/>
<rect x="826.9" y="740.7" width="3" height="1"/>
<rect x="836.9" y="740.7" width="3" height="1"/>
<rect x="846.9" y="740.7" width="3" height="1"/>
<rect x="856.8" y="740.7" width="3" height="1"/>
<rect x="866.8" y="740.7" width="3" height="1"/>
<rect x="876.8" y="740.7" width="3" height="1"/>
<rect x="886.8" y="740.4" width="3" height="1.3"/>
<rect x="896.7" y="735.7" width="3" height="6"/>
<rect x="906.7" y="739.1" width="3" height="2.6"/>
<rect x="916.7" y="732" width="3" height="9.7"/>
<rect x="926.7" y="739.8" width="3" height="1.9"/>
<rect x="936.6" y="738.4" width="3" height="3.3"/>
<rect x="946.6" y="719" width="3" height="22.7"/>
<rect x="956.6" y="704" width="3" height="37.7"/>
</g>

<!-- ===== Precip ===== -->
<g fill="#22cc22">
<rect x="206.5" y="905.1" width="6.7" height="3.9"/>
<rect x="276.3" y="894" width="6.7" height="15"/>
<rect x="286.3" y="858" width="6.7" height="51"/>
<rect x="296.2" y="888" width="6.7" height="21"/>
<rect x="306.2" y="904" width="6.7" height="5"/>
<rect x="316.2" y="903" width="6.7" height="6"/>
<rect x="326.2" y="894" width="6.7" height="15"/>
<rect x="336.1" y="871" width="6.7" height="38"/>
<rect x="346.1" y="757.2" width="6.7" height="151.8"/>
<rect x="356.1" y="854" width="6.7" height="55"/>
<rect x="366.1" y="885" width="6.7" height="24"/>
<rect x="376" y="893" width="6.7" height="16"/>
<rect x="386" y="893" width="6.7" height="16"/>
<rect x="396" y="903" width="6.7" height="6"/>
<rect x="406" y="899" width="6.7" height="10"/>
<rect x="415.9" y="907" width="6.7" height="2"/>
</g>
</g>

<!-- ===== Frame ===== -->
<g stroke="#000" fill="none">
<path stroke-width="2" d="M199,136H960 M200,136V909 M959,136V909 M199,291H960 M199,445H960 M199,599H960 M199,754H960"/>
<path stroke-width="2" stroke-dasharray="7 2" d="M200,909H959"/>
<path stroke-width="1.2" d="M193,158H200 M193,198H200 M193,238.5H200 M193,278.8H200
M193,291H200 M193,327.6H200 M193,364H200 M193,400.3H200 M193,436.7H200
M193,459.2H200 M193,473.7H200 M193,488.2H200 M193,502.8H200 M193,517.3H200 M193,531.9H200 M193,546.4H200 M193,561H200 M193,575.5H200 M193,590.1H200
M193,613H200 M193,645.2H200 M193,677.3H200 M193,709.5H200 M193,741.7H200
M193,783.8H200 M193,815.1H200 M193,846.4H200 M193,877.7H200 M193,909H200
M313.3,130V136 M431.7,130V136 M550,130V136 M667.7,130V136 M786,130V136 M904.3,130V136
M310,909V915 M429.3,909V915 M549.3,909V915 M669,909V915 M789,909V915 M908.3,909V915"/>
</g>
</svg>
</body>
</html>
